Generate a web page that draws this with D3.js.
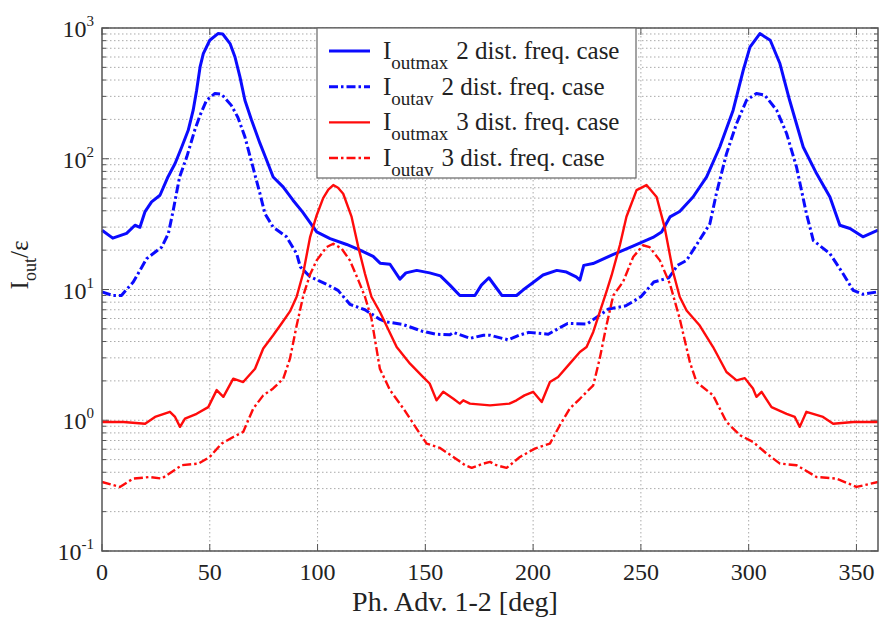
<!DOCTYPE html>
<html>
<head>
<meta charset="utf-8">
<script src="https://cdn.jsdelivr.net/npm/d3@7"></script>
<style>
  body { margin: 0; background: #fff; }
  svg { display: block; font-family: "Liberation Serif", "Times New Roman", serif; }
</style>
</head>
<body>
<svg id="chart" width="879" height="617"></svg>
<script>
// [phase deg, value]
const blueMax = [[0,28.4],[5,24.7],[11.4,26.9],[15.3,31],[17.6,29.9],[19.9,39.2],[23,46.8],[26.9,52.6],[30.6,72.6],[33.9,91.9],[37,123],[40,165],[42.3,235],[43.9,334],[45.5,504],[47,637],[50,806],[53.8,906],[56,900],[59.4,760],[61.7,600],[64,423],[66.3,280],[69.4,197],[73.3,131],[76.4,97.5],[79.4,72.6],[84,60.9],[88.6,48.2],[93,39.2],[99.6,27.6],[105.8,24.5],[113.5,22.1],[119.7,20],[125.8,17.9],[129,15.9],[133.6,15.6],[138.2,12],[141,13.4],[146,14],[152,13.4],[157,12.7],[161.4,10.8],[166,9],[173,9],[176,10.8],[179.5,12.3],[183.5,10],[185.5,9],[192.3,9],[195.3,9.9],[200,11.3],[204.6,12.9],[211,14],[215.5,13.6],[220,12.5],[221.7,11.8],[223.5,15.3],[227.8,15.8],[237,18.5],[246.3,21.5],[255.6,25],[259.6,27.5],[263.5,35.9],[268,39.5],[274.2,51],[280.5,72.6],[286.6,123],[292.8,235],[297.5,476],[300.6,715],[305.2,906],[310,806],[314.5,535],[319,280],[325.3,123],[331.5,77],[337.7,51],[342.3,31],[347,29.3],[353,25.3],[360,28.4]];

const blueAv = [[0,9.6],[5,9],[9,9],[14.5,11.4],[20.7,17.2],[27.7,21.1],[30.8,26.8],[33,40],[36,72.6],[39.3,103],[43,165],[45.5,215],[48.5,280],[52.4,316],[55.5,311],[60,256],[63,208],[66.3,147],[70,86.5],[73.3,54],[75.6,38],[79.4,30],[85.6,25.3],[90.3,18.8],[92,14.9],[96.5,12.5],[104,11],[109.5,9.85],[115,7.7],[122,7],[129,5.9],[132,5.65],[139.6,5.4],[148.5,4.8],[155,4.55],[161.4,4.5],[163,4.7],[170.7,4.23],[177,4.47],[180,4.47],[183,4.34],[188.5,4.12],[194,4.5],[198,4.7],[207,4.55],[216,5.5],[225,5.45],[235,7.1],[243,7.5],[250,8.8],[256,11.4],[263,12.3],[267,15.3],[271.2,16.7],[282,31.8],[285,54],[289.7,109],[294.4,186],[299,280],[303.6,316],[307.5,306],[313,235],[317.6,156],[322.2,86.5],[326.8,38],[330,23.7],[337.7,18.8],[343.8,13.2],[348.5,9.85],[353,9.2],[360,9.6]];

const redMax = [[0,0.97],[10,0.97],[20,0.94],[24.6,1.06],[31.5,1.16],[33.9,1.06],[36.2,0.89],[38.5,1.03],[43.9,1.12],[49.3,1.26],[53.2,1.7],[56.3,1.51],[60.9,2.08],[65.5,1.96],[71,2.48],[74.8,3.54],[79.4,4.47],[83.3,5.5],[87.2,6.8],[90.3,8.8],[93.4,13.5],[96.5,25],[99.6,37],[102.6,50],[105,58],[107.3,62.9],[109.5,60],[111.9,54],[115.8,35.9],[118.9,21.1],[122,13.2],[125,8.8],[129,6.7],[136.7,3.63],[142.9,2.71],[149,2.14],[152,1.91],[155.2,1.42],[158.3,1.65],[163,1.46],[166,1.34],[167.6,1.42],[170.7,1.34],[180,1.3],[189,1.34],[192.3,1.42],[196,1.55],[200,1.65],[204,1.38],[207.8,1.96],[211.6,2.14],[217,2.71],[221.7,3.33],[224.8,3.63],[227.9,4.74],[230.9,6.7],[234,9.6],[236.4,12.8],[240.3,22],[243.3,36],[248,57.6],[252.6,62.9],[257.3,51],[261,30],[265,13.5],[268,8.8],[271.2,6.9],[277.3,5.3],[283.5,3.63],[289.7,2.34],[294.4,2.02],[298.2,2.1],[302,1.75],[303.6,1.51],[306,1.65],[310.6,1.26],[317.6,1.12],[321.4,1.06],[323.7,0.89],[326.8,1.16],[334.5,1.06],[339.2,0.94],[348.5,0.97],[360,0.97]];

const redAv = [[0,0.337],[8.3,0.309],[14.5,0.358],[22.3,0.368],[27.7,0.358],[37,0.453],[44.7,0.466],[50,0.524],[55.5,0.663],[60.9,0.745],[65.5,0.814],[70.2,1.23],[74.8,1.55],[79.4,1.75],[84.1,2.08],[87.2,2.96],[90.3,5.3],[93.4,9],[96.5,13],[99.6,16.7],[104.2,21.1],[107.3,22.4],[111.2,20.5],[115,16.7],[118.9,11.8],[122,8.8],[125,6],[128.9,2.48],[133.6,1.7],[139.8,1.23],[146,0.86],[150.6,0.663],[156.8,0.614],[163,0.524],[168.4,0.453],[171.5,0.432],[176.9,0.466],[180,0.48],[183,0.453],[187.7,0.432],[193.9,0.524],[200.8,0.607],[207.8,0.663],[212.4,0.916],[217,1.23],[221.7,1.46],[227.9,1.85],[230.9,2.96],[234,5.3],[237.2,9],[241.8,11.5],[246.4,17.7],[251,21.8],[254,21.1],[258.8,16.7],[263.5,11],[268,6],[272.7,2.79],[275.8,1.96],[283.5,1.55],[289.7,0.97],[296,0.768],[302,0.683],[308.3,0.556],[314.5,0.466],[322.2,0.453],[331.5,0.368],[340.8,0.358],[350,0.309],[360,0.337]];

const xTicks = [0, 50, 100, 150, 200, 250, 300, 350];
const yDecades = [-1, 0, 1, 2, 3];
const legendLabels = [
  {sub: "outmax", text: "2 dist. freq. case"},
  {sub: "outav", text: "2 dist. freq. case"},
  {sub: "outmax", text: "3 dist. freq. case"},
  {sub: "outav", text: "3 dist. freq. case"}
];

const svg = d3.select("#chart");
const pl = 102, pr = 878, pt = 28, pb = 551;

const x = d3.scaleLinear().domain([0, 360]).range([pl, pr]);
const y = d3.scaleLog().domain([0.1, 1000]).range([pb, pt]);

// grid
const minorVals = [];
for (let e = -1; e < 3; e++) {
  for (let m = 1; m < 10; m++) minorVals.push(m * Math.pow(10, e));
}
minorVals.push(1000);

const grid = svg.append("g");
grid.selectAll("line.h").data(minorVals).join("line")
  .attr("x1", pl).attr("x2", pr)
  .attr("y1", d => y(d)).attr("y2", d => y(d))
  .attr("stroke", "#aaa").attr("stroke-width", 1)
  .attr("stroke-dasharray", "1.5,2.5");
grid.selectAll("line.v").data(xTicks.slice(1)).join("line")
  .attr("x1", d => x(d)).attr("x2", d => x(d))
  .attr("y1", pt).attr("y2", pb)
  .attr("stroke", "#aaa").attr("stroke-width", 1)
  .attr("stroke-dasharray", "1.5,2.5");

// ticks (inward)
const ticks = svg.append("g").attr("stroke", "#555").attr("stroke-width", 1);
xTicks.forEach(t => {
  ticks.append("line").attr("x1", x(t)).attr("x2", x(t)).attr("y1", pb).attr("y2", pb - 7);
  ticks.append("line").attr("x1", x(t)).attr("x2", x(t)).attr("y1", pt).attr("y2", pt + 7);
});
minorVals.forEach(v => {
  const major = Math.abs(Math.log10(v) - Math.round(Math.log10(v))) < 1e-9;
  const len = major ? 7 : 4;
  ticks.append("line").attr("x1", pl).attr("x2", pl + len).attr("y1", y(v)).attr("y2", y(v));
  ticks.append("line").attr("x1", pr).attr("x2", pr - len).attr("y1", y(v)).attr("y2", y(v));
});

// curves
const line = d3.line().x(d => x(d[0])).y(d => y(d[1]));
const series = [
  {data: blueMax, color: "#0b0bff", width: 3, dash: null},
  {data: blueAv, color: "#0b0bff", width: 3, dash: "9,3,2.5,3"},
  {data: redMax, color: "#ff0b0b", width: 2.4, dash: null},
  {data: redAv, color: "#ff0b0b", width: 2.4, dash: "9,3,2.5,3"}
];
series.forEach(s => {
  svg.append("path").datum(s.data)
    .attr("d", line)
    .attr("fill", "none")
    .attr("stroke", s.color)
    .attr("stroke-width", s.width)
    .attr("stroke-linejoin", "round")
    .attr("stroke-dasharray", s.dash);
});

// frame
svg.append("rect")
  .attr("x", pl).attr("y", pt)
  .attr("width", pr - pl).attr("height", pb - pt)
  .attr("fill", "none").attr("stroke", "#555").attr("stroke-width", 1.5);

// x tick labels
svg.append("g").selectAll("text").data(xTicks).join("text")
  .attr("x", d => x(d)).attr("y", 580)
  .attr("text-anchor", "middle")
  .attr("font-size", 24).attr("fill", "#222")
  .text(d => d);

// y tick labels
const yl = svg.append("g").selectAll("text").data(yDecades).join("text")
  .attr("x", 94).attr("y", d => y(Math.pow(10, d)) + 9)
  .attr("text-anchor", "end")
  .attr("font-size", 24).attr("fill", "#222");
yl.append("tspan").text("10");
yl.append("tspan").attr("dy", -11).attr("font-size", 15).text(d => d);

// axis labels
svg.append("text")
  .attr("x", 455).attr("y", 611)
  .attr("text-anchor", "middle")
  .attr("font-size", 28).attr("fill", "#222")
  .text("Ph. Adv. 1-2 [deg]");

const ylab = svg.append("text")
  .attr("transform", "translate(28,265) rotate(-90)")
  .attr("text-anchor", "middle")
  .attr("font-size", 25).attr("fill", "#222");
ylab.append("tspan").text("I");
ylab.append("tspan").attr("dy", 8).attr("font-size", 18).text("out");
ylab.append("tspan").attr("dy", -8).text("/ε");

// legend
const lg = svg.append("g");
lg.append("rect")
  .attr("x", 317).attr("y", 28).attr("width", 319).attr("height", 150)
  .attr("fill", "#fff").attr("stroke", "#666").attr("stroke-width", 1.2);
const rowY = d3.scaleLinear().domain([0, 3]).range([51, 158]);
legendLabels.forEach((l, i) => {
  const s = series[i];
  const yy = rowY(i);
  lg.append("line")
    .attr("x1", 329).attr("x2", 370).attr("y1", yy).attr("y2", yy)
    .attr("stroke", s.color).attr("stroke-width", s.width)
    .attr("stroke-dasharray", s.dash);
  const t = lg.append("text")
    .attr("x", 383).attr("y", yy + 8)
    .attr("font-size", 25).attr("fill", "#222");
  t.append("tspan").text("I");
  t.append("tspan").attr("dy", 10).attr("font-size", 19).text(l.sub);
  t.append("tspan").attr("dy", -10).attr("dx", 8).text(l.text);
});
</script>
</body>
</html>
